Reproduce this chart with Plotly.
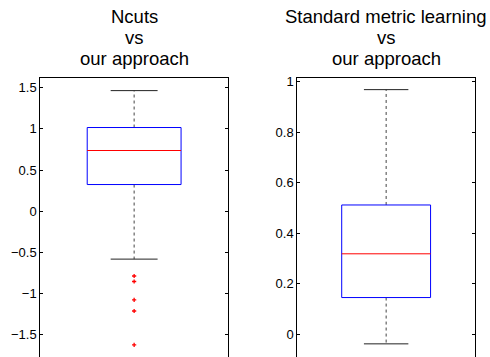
import plotly.graph_objects as go

# ---- data ----
title_lines = [["Ncuts", "vs", "our approach"],
               ["Standard metric learning", "vs", "our approach"]]
upper_whisker = [1.465, 0.968]
q3 = [1.017, 0.512]
median = [0.738, 0.319]
q1 = [0.325, 0.146]
lower_whisker = [-0.58, -0.037]
outliers = [[-0.785, -0.852, -1.075, -1.21, -1.62], []]

left_tickvals = [-1.5, -1, -0.5, 0, 0.5, 1, 1.5]
left_ticktext = ["\u22121.5", "\u22121", "\u22120.5", "0", "0.5", "1", "1.5"]
right_tickvals = [0, 0.2, 0.4, 0.6, 0.8, 1]
right_ticktext = ["0", "0.2", "0.4", "0.6", "0.8", "1"]

tickvals = [left_tickvals, right_tickvals]
ticktext = [left_ticktext, right_ticktext]
yranges = [[-1.768, 1.618], [-0.089, 1.014]]
domains = [[0.0822, 0.4653], [0.6067, 0.9694]]

FONT = "Liberation Sans, Arial, Helvetica, sans-serif"

fig = go.Figure()
for i in range(2):
    xa = "x" if i == 0 else "x2"
    ya = "y" if i == 0 else "y2"
    c = 1.0
    bw = 0.25
    cw = 0.125
    # whiskers (dashed)
    fig.add_trace(go.Scatter(x=[c, c], y=[q3[i], upper_whisker[i]], mode="lines",
                             line=dict(color="#444", width=1, dash="3px,3px"),
                             xaxis=xa, yaxis=ya, showlegend=False, hoverinfo="skip"))
    fig.add_trace(go.Scatter(x=[c, c], y=[q1[i], lower_whisker[i]], mode="lines",
                             line=dict(color="#444", width=1, dash="3px,3px"),
                             xaxis=xa, yaxis=ya, showlegend=False, hoverinfo="skip"))
    # caps
    for w in (upper_whisker[i], lower_whisker[i]):
        fig.add_trace(go.Scatter(x=[c - cw, c + cw], y=[w, w], mode="lines",
                                 line=dict(color="#222", width=1),
                                 xaxis=xa, yaxis=ya, showlegend=False, hoverinfo="skip"))
    # box
    fig.add_trace(go.Scatter(x=[c - bw, c + bw, c + bw, c - bw, c - bw],
                             y=[q1[i], q1[i], q3[i], q3[i], q1[i]], mode="lines",
                             line=dict(color="#0000ff", width=1),
                             xaxis=xa, yaxis=ya, showlegend=False, hoverinfo="skip"))
    # median
    fig.add_trace(go.Scatter(x=[c - bw, c + bw], y=[median[i], median[i]], mode="lines",
                             line=dict(color="#ff0000", width=1),
                             xaxis=xa, yaxis=ya, showlegend=False, hoverinfo="skip"))
    # outliers
    if outliers[i]:
        fig.add_trace(go.Scatter(x=[c] * len(outliers[i]), y=outliers[i], mode="markers",
                                 marker=dict(symbol="cross-thin", size=3,
                                             line=dict(color="#ff0000", width=1.3)),
                                 xaxis=xa, yaxis=ya, showlegend=False, hoverinfo="skip"))

axis_common_x = dict(range=[0.5, 1.5], showline=True, linecolor="black", linewidth=1,
                     side="top", showticklabels=False, ticks="", showgrid=False, zeroline=False,
                     automargin=False, fixedrange=True)
axis_common_y = dict(showline=True, linecolor="black", linewidth=1, mirror="ticks",
                     ticks="inside", ticklen=3, tickcolor="black", showgrid=False, zeroline=False,
                     automargin=False, fixedrange=True,
                     tickfont=dict(family=FONT, size=13, color="black"))

fig.update_layout(
    width=490, height=357,
    margin=dict(l=0, r=0, t=78, b=0, autoexpand=False),
    paper_bgcolor="white", plot_bgcolor="white",
    xaxis=dict(domain=domains[0], anchor="y", **axis_common_x),
    xaxis2=dict(domain=domains[1], anchor="y2", **axis_common_x),
    yaxis=dict(domain=[0, 1], anchor="x", range=yranges[0], tickvals=tickvals[0],
               ticktext=ticktext[0], **axis_common_y),
    yaxis2=dict(domain=[0, 1], anchor="x2", range=yranges[1], tickvals=tickvals[1],
                ticktext=ticktext[1], **axis_common_y),
)

line_shifts = [61.8, 40.5, 19.5]
for i in range(2):
    for line, ys in zip(title_lines[i], line_shifts):
        fig.add_annotation(text=line, xref="paper", yref="paper",
                           x=(domains[i][0] + domains[i][1]) / 2, y=1, yshift=ys,
                           xanchor="center", yanchor="middle", showarrow=False,
                           font=dict(family=FONT, size=18.5, color="black"))

fig.write_html("out.html", config={"displayModeBar": False},
               post_script="document.body.style.margin='0';document.body.style.overflow='hidden';")
